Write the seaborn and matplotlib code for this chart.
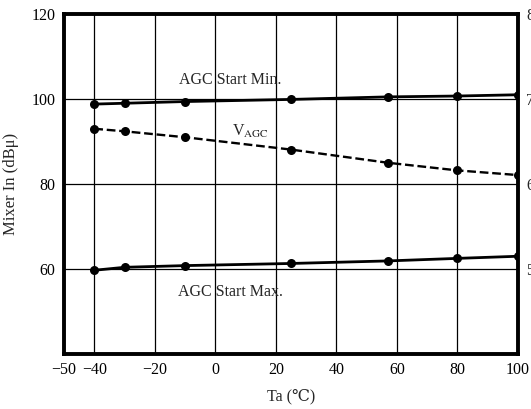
import matplotlib
matplotlib.use("Agg")
import matplotlib.pyplot as plt
import seaborn as sns
import pandas as pd

# Ambient temperature (°C) at each measurement
temps = [-40, -30, -10, 25, 57, 80, 100]
# Mixer input level (dBμ)
agc_start_min = [98.8, 99.0, 99.4, 99.9, 100.5, 100.7, 101.0]
v_agc = [93.0, 92.4, 91.0, 88.1, 85.0, 83.2, 82.1]
agc_start_max = [59.7, 60.4, 60.8, 61.3, 61.9, 62.5, 63.0]

x_ticks = [-50, -40, -20, 0, 20, 40, 60, 80, 100]
x_tick_labels = ["\u221250", "\u221240", "\u221220", "0", "20", "40", "60", "80", "100"]
y_ticks = [60, 80, 100, 120]
right_ticks = [5, 6, 7, 8]

sns.set_style("white")
plt.rcParams["font.family"] = ["Liberation Serif", "DejaVu Serif", "DejaVu Sans"]
plt.rcParams["mathtext.fontset"] = "stix"

fig = plt.figure(figsize=(5.31, 4.09), dpi=100)
ax = fig.add_axes([64 / 531, 1 - 354 / 409, (518 - 64) / 531, (354 - 14) / 409])

df = pd.DataFrame({"Ta": temps, "min": agc_start_min, "vagc": v_agc, "max": agc_start_max})

sns.lineplot(data=df, x="Ta", y="min", ax=ax, color="black", lw=2.0,
             marker="o", markersize=6.5, markeredgewidth=0)
sns.lineplot(data=df, x="Ta", y="vagc", ax=ax, color="black", lw=1.7,
             marker="o", markersize=6.5, markeredgewidth=0, dashes=(4, 3.5), linestyle="--")
sns.lineplot(data=df, x="Ta", y="max", ax=ax, color="black", lw=2.0,
             marker="o", markersize=6.5, markeredgewidth=0)

ax.set_xlim(-50, 100)
ax.set_ylim(40, 120)
ax.set_xticks(x_ticks)
ax.set_xticklabels(x_tick_labels)
ax.set_yticks(y_ticks)

for gx in [-40, -20, 0, 20, 40, 60, 80]:
    ax.axvline(gx, color="black", lw=0.9, zorder=0)
for gy in [60, 80, 100]:
    ax.axhline(gy, color="black", lw=0.9, zorder=0)

for s in ax.spines.values():
    s.set_visible(True)
    s.set_linewidth(2.8)
    s.set_color("black")

ax.tick_params(axis="both", length=0, labelsize=11.5, pad=6, colors="black")
ax.set_xlabel("Ta (\u2103)", fontsize=11.5, labelpad=7)
ax.set_ylabel("Mixer In (dB\u03bc)", fontsize=12, labelpad=9)

ax.text(5, 104.5, "AGC Start Min.", fontsize=11.5, ha="center", va="center")
ax.text(5.5, 92.3, r"V$_{\mathrm{AGC}}$", fontsize=11.5, ha="left", va="center")
ax.text(5, 54.6, "AGC Start Max.", fontsize=11.5, ha="center", va="center")

ax2 = ax.twinx()
ax2.set_ylim(4, 8)
ax2.set_yticks(right_ticks)
ax2.tick_params(axis="y", length=0, labelsize=11.5, pad=6)
for s in ax2.spines.values():
    s.set_visible(False)

fig.savefig("out.png", dpi=100)
